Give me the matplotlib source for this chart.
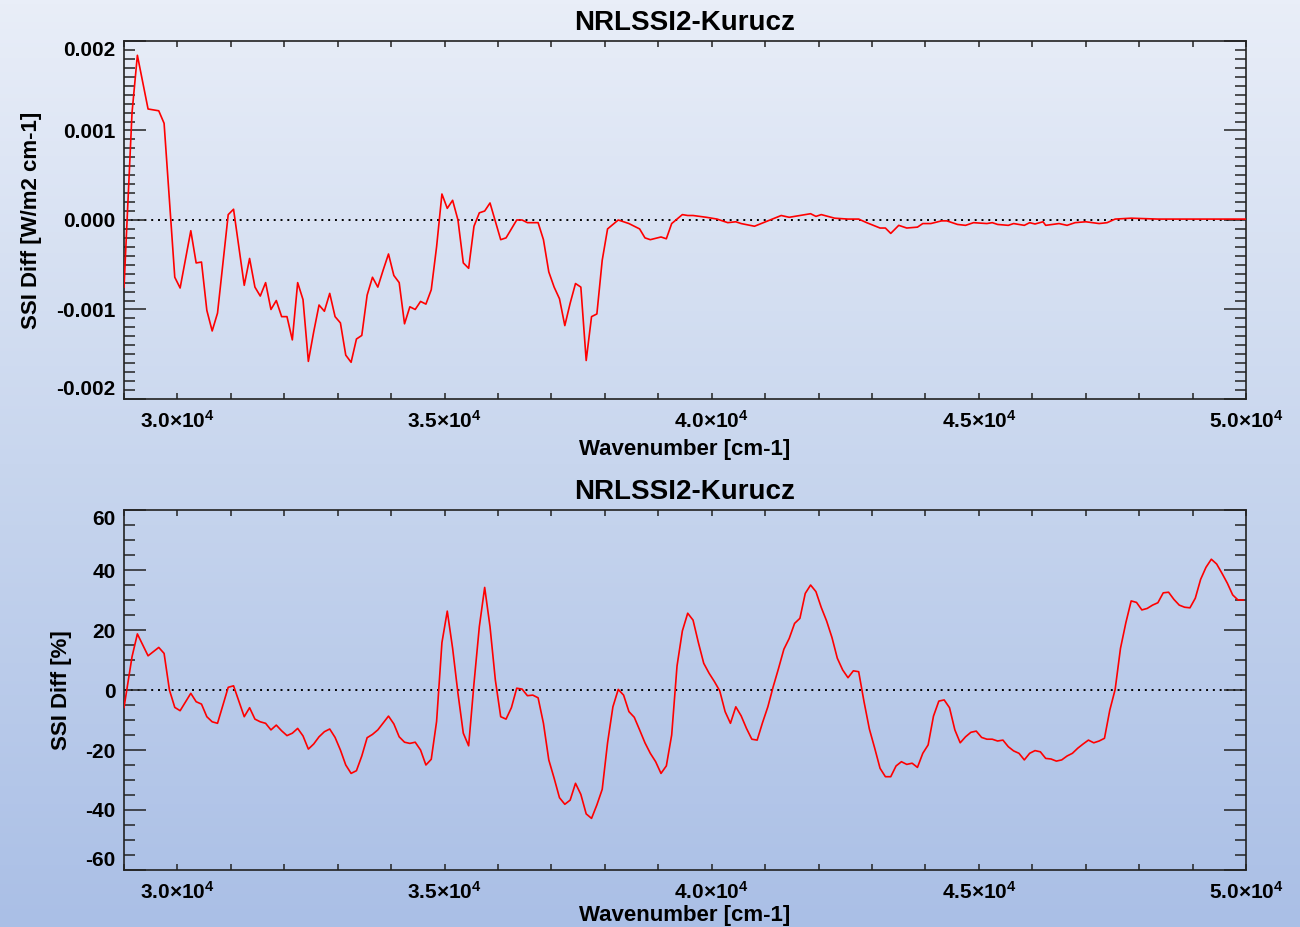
import numpy as np
import matplotlib
matplotlib.use('Agg')
from matplotlib import pyplot as plt
from matplotlib.ticker import MultipleLocator, FuncFormatter
from matplotlib.colors import LinearSegmentedColormap

plt.rcParams['font.family'] = ['Liberation Sans', 'DejaVu Sans']
plt.rcParams['font.weight'] = 'bold'
plt.rcParams['mathtext.fontset'] = 'custom'
plt.rcParams['mathtext.rm'] = 'Liberation Sans:bold'
plt.rcParams['mathtext.default'] = 'rm'
plt.rcParams['axes.unicode_minus'] = False

title = 'NRLSSI2-Kurucz'
xlabel = 'Wavenumber [cm-1]'

# top panel: absolute difference [W/m2 cm-1]
wn_abs = [29000, 29150, 29250, 29450, 29650, 29750, 29950, 30050, 30250, 30350,
          30450, 30550, 30650, 30750, 30950, 31050, 31250, 31350, 31450, 31550,
          31650, 31750, 31850, 31950, 32050, 32150, 32250, 32350, 32450, 32550,
          32650, 32750, 32850, 32950, 33050, 33150, 33250, 33350, 33450, 33550,
          33650, 33750, 33850, 33950, 34050, 34150, 34250, 34350, 34450, 34550,
          34650, 34750, 34850, 34950, 35050, 35150, 35250, 35350, 35450, 35550,
          35650, 35750, 35850, 36050, 36150, 36350, 36450, 36550, 36750, 36850,
          36950, 37050, 37150, 37250, 37350, 37450, 37550, 37650, 37750, 37850,
          37950, 38050, 38250, 38450, 38650, 38750, 38850, 39050, 39150, 39250,
          39450, 39550, 39650, 39900, 40100, 40300, 40450, 40550, 40800, 41050,
          41300, 41450, 41650, 41850, 41950, 42050, 42300, 42550, 42750, 42900,
          43150, 43250, 43350, 43500, 43650, 43850, 43950, 44100, 44300, 44400,
          44600, 44750, 44900, 45150, 45250, 45350, 45550, 45650, 45850, 45950,
          46050, 46200, 46250, 46500, 46650, 46800, 47000, 47250, 47400, 47550,
          47850, 48350, 49000, 49600, 50000]
ssi_abs = [-0.00075, 0.00120, 0.00184, 0.00124, 0.00122, 0.00108, -0.00064, -0.00076, -0.00012, -0.00048,
           -0.00047, -0.00101, -0.00124, -0.00104, 0.00006, 0.00012, -0.00073, -0.00043, -0.00075, -0.00085,
           -0.00070, -0.00100, -0.00090, -0.00108, -0.00108, -0.00134, -0.00070, -0.00089, -0.00158, -0.00125,
           -0.00095, -0.00102, -0.00082, -0.00108, -0.00115, -0.00151, -0.00159, -0.00133, -0.00129, -0.00084,
           -0.00064, -0.00075, -0.00056, -0.00038, -0.00062, -0.00070, -0.00116, -0.00097, -0.00100, -0.00091,
           -0.00094, -0.00078, -0.00030, 0.00029, 0.00013, 0.00022, 0.00000, -0.00048, -0.00054, -0.00007,
           0.00008, 0.00010, 0.00019, -0.00022, -0.00020, 0.00000, 0.00000, -0.00003, -0.00003, -0.00022,
           -0.00058, -0.00075, -0.00088, -0.00118, -0.00093, -0.00071, -0.00075, -0.00157, -0.00108, -0.00105,
           -0.00045, -0.00010, 0.00000, -0.00004, -0.00010, -0.00020, -0.00022, -0.00019, -0.00021, -0.00004,
           0.00006, 0.00005, 0.00005, 0.00003, 0.00001, -0.00003, -0.00002, -0.00004, -0.00007, -0.00001,
           0.00005, 0.00003, 0.00005, 0.00007, 0.00004, 0.00006, 0.00002, 0.00001, 0.00001, -0.00003,
           -0.00009, -0.00009, -0.00015, -0.00006, -0.00009, -0.00008, -0.00004, -0.00004, -0.00001, -0.00001,
           -0.00005, -0.00006, -0.00003, -0.00004, -0.00003, -0.00005, -0.00006, -0.00004, -0.00006, -0.00003,
           -0.000045, -0.00002, -0.00006, -0.00004, -0.00006, -0.00003, -0.00002, -0.00004, -0.00003, 0.00001,
           0.00002, 0.00001, 0.00001, 0.00001, 0.00001]

# bottom panel: relative difference [%]
wn_pct = [29000, 29150, 29250, 29450, 29650, 29750, 29850, 29950, 30050, 30250,
          30350, 30450, 30550, 30650, 30750, 30950, 31050, 31250, 31350, 31450,
          31550, 31650, 31750, 31850, 31950, 32050, 32150, 32250, 32350, 32450,
          32550, 32650, 32750, 32850, 32950, 33050, 33150, 33250, 33350, 33450,
          33550, 33650, 33750, 33850, 33950, 34050, 34150, 34250, 34350, 34450,
          34550, 34650, 34750, 34850, 34950, 35050, 35150, 35250, 35350, 35450,
          35550, 35650, 35750, 35850, 35950, 36050, 36150, 36250, 36350, 36450,
          36550, 36650, 36750, 36850, 36950, 37050, 37150, 37250, 37350, 37450,
          37550, 37650, 37750, 37850, 37950, 38050, 38150, 38250, 38350, 38450,
          38550, 38650, 38750, 38850, 38950, 39050, 39150, 39250, 39350, 39450,
          39550, 39650, 39750, 39850, 39950, 40050, 40150, 40250, 40350, 40450,
          40550, 40650, 40750, 40850, 40950, 41050, 41150, 41250, 41350, 41450,
          41550, 41650, 41750, 41850, 41950, 42050, 42150, 42250, 42350, 42450,
          42550, 42650, 42750, 42850, 42950, 43050, 43150, 43250, 43350, 43450,
          43550, 43650, 43750, 43850, 43950, 44050, 44150, 44250, 44350, 44450,
          44550, 44650, 44750, 44850, 44950, 45050, 45150, 45250, 45350, 45450,
          45550, 45650, 45750, 45850, 45950, 46050, 46150, 46250, 46350, 46450,
          46550, 46650, 46750, 46850, 46950, 47050, 47150, 47250, 47350, 47450,
          47550, 47650, 47750, 47850, 47950, 48050, 48150, 48250, 48350, 48450,
          48550, 48650, 48750, 48850, 48950, 49050, 49150, 49250, 49350, 49450,
          49550, 49650, 49750, 49850, 49950]
ssi_pct = [-5.8, 11.1, 18.7, 11.4, 14.2, 12.2, 0.0, -5.8, -6.9, -1.1,
           -3.9, -4.7, -8.9, -10.6, -11.1, 0.9, 1.4, -8.9, -5.9, -9.7,
           -10.6, -11.1, -13.3, -11.7, -13.6, -15.2, -14.4, -12.8, -15.3, -19.7,
           -18.0, -15.6, -13.9, -13.0, -15.8, -20.0, -25.0, -27.8, -26.9, -22.0,
           -15.9, -14.8, -13.3, -11.0, -8.7, -11.3, -15.6, -17.4, -17.8, -17.4,
           -20.0, -25.0, -23.1, -10.5, 15.8, 26.3, 13.9, -1.1, -14.4, -18.6,
           2.2, 21.1, 34.2, 21.1, 3.3, -8.9, -9.7, -5.9, 0.6, 0.3,
           -1.9, -1.7, -2.6, -11.1, -23.3, -29.4, -35.9, -38.1, -36.7, -31.1,
           -34.8, -41.3, -42.8, -38.3, -33.1, -17.6, -5.6, 0.2, -1.7, -7.2,
           -9.1, -13.3, -17.6, -21.1, -23.9, -27.8, -25.3, -15.0, 8.0, 19.7,
           25.6, 23.3, 15.8, 8.9, 5.6, 2.8, -0.3, -7.2, -11.1, -5.6,
           -8.6, -12.8, -16.4, -16.7, -10.9, -5.6, 1.1, 7.2, 13.6, 17.2,
           22.2, 23.9, 32.2, 35.0, 32.8, 27.5, 23.0, 17.5, 10.6, 6.7,
           4.1, 6.4, 6.1, -3.9, -13.0, -19.4, -26.1, -28.9, -28.9, -25.3,
           -23.9, -24.8, -24.4, -25.8, -21.1, -18.3, -8.7, -3.7, -3.3, -5.9,
           -13.3, -17.6, -15.6, -14.1, -13.7, -15.8, -16.4, -16.4, -17.0, -16.7,
           -18.9, -20.3, -21.1, -23.3, -21.1, -20.2, -20.6, -22.8, -23.0, -23.7,
           -23.3, -22.0, -21.1, -19.4, -18.0, -16.7, -17.6, -17.0, -16.1, -6.7,
           0.2, 13.9, 22.4, 29.7, 29.2, 26.7, 27.2, 28.3, 29.1, 32.4,
           32.6, 30.2, 28.3, 27.6, 27.4, 30.6, 36.9, 40.9, 43.6, 42.0,
           38.9, 35.6, 31.7, 30.0, 30.0]


def xfmt(v, pos):
    return '%.1f' % (v / 1e4) + r'$\times$10$^{4}$'


def style_axes(ax, ymin, ymax, ymajor, yminor, yfmt, ylabel, ylab_x, xlab_y):
    ax.set_facecolor('none')
    ax.set_xlim(29000, 50000)
    ax.set_ylim(ymin, ymax)
    ax.set_xticks([30000, 35000, 40000, 45000, 50000])
    ax.xaxis.set_minor_locator(MultipleLocator(1000))
    ax.set_yticks(np.linspace(ymin, ymax, int(round((ymax - ymin) / ymajor)) + 1))
    ax.yaxis.set_minor_locator(MultipleLocator(yminor))
    ax.xaxis.set_major_formatter(FuncFormatter(xfmt))
    ax.yaxis.set_major_formatter(FuncFormatter(yfmt))
    ax.tick_params(which='both', direction='in', top=True, right=True,
                   labelsize=15, width=1.1, color='#222222')
    ax.tick_params(axis='x', which='both', length=4.5, pad=8)
    ax.tick_params(axis='y', which='major', length=16, pad=6)
    ax.tick_params(axis='y', which='minor', length=8)
    for s in ax.spines.values():
        s.set_linewidth(1.2)
        s.set_color('#222222')
    ax.axhline(0, color='black', lw=1.4, ls=(0, (1, 2.5)), zorder=1)
    ax.set_title(title, fontsize=20, fontweight='bold', pad=8)
    ax.set_xlabel(xlabel, fontsize=16, fontweight='bold')
    ax.set_ylabel(ylabel, fontsize=16, fontweight='bold')
    ax.yaxis.set_label_coords(ylab_x, 0.5)
    ax.xaxis.set_label_coords(0.5, xlab_y)
    ticks = ax.yaxis.get_major_ticks()
    ticks[0].label1.set_va('bottom')
    ticks[-1].label1.set_va('top')


fig = plt.figure(figsize=(13, 9.27), dpi=100)

# vertical background gradient
bg = fig.add_axes([0, 0, 1, 1], zorder=-10)
cmap = LinearSegmentedColormap.from_list('bg', ['#aabfe6', '#c8d6ee', '#e9eef8'])
bg.imshow(np.linspace(0, 1, 256).reshape(-1, 1), aspect='auto', cmap=cmap,
          origin='lower', extent=[0, 1, 0, 1])
bg.axis('off')

ax1 = fig.add_axes([0.0954, 0.5696, 0.8631, 0.3862])
ax1.plot(wn_abs, ssi_abs, color='red', lw=1.2, zorder=3)
style_axes(ax1, -0.002, 0.002, 0.001, 0.0001, lambda v, p: '%.3f' % v,
           'SSI Diff [W/m2 cm-1]', -0.073, -0.112)

ax2 = fig.add_axes([0.0954, 0.0615, 0.8631, 0.3883])
ax2.plot(wn_pct, ssi_pct, color='red', lw=1.2, zorder=3)
style_axes(ax2, -60, 60, 20, 5, lambda v, p: '%d' % round(v),
           'SSI Diff [%]', -0.046, -0.097)

fig.savefig('out.png', dpi=100)
